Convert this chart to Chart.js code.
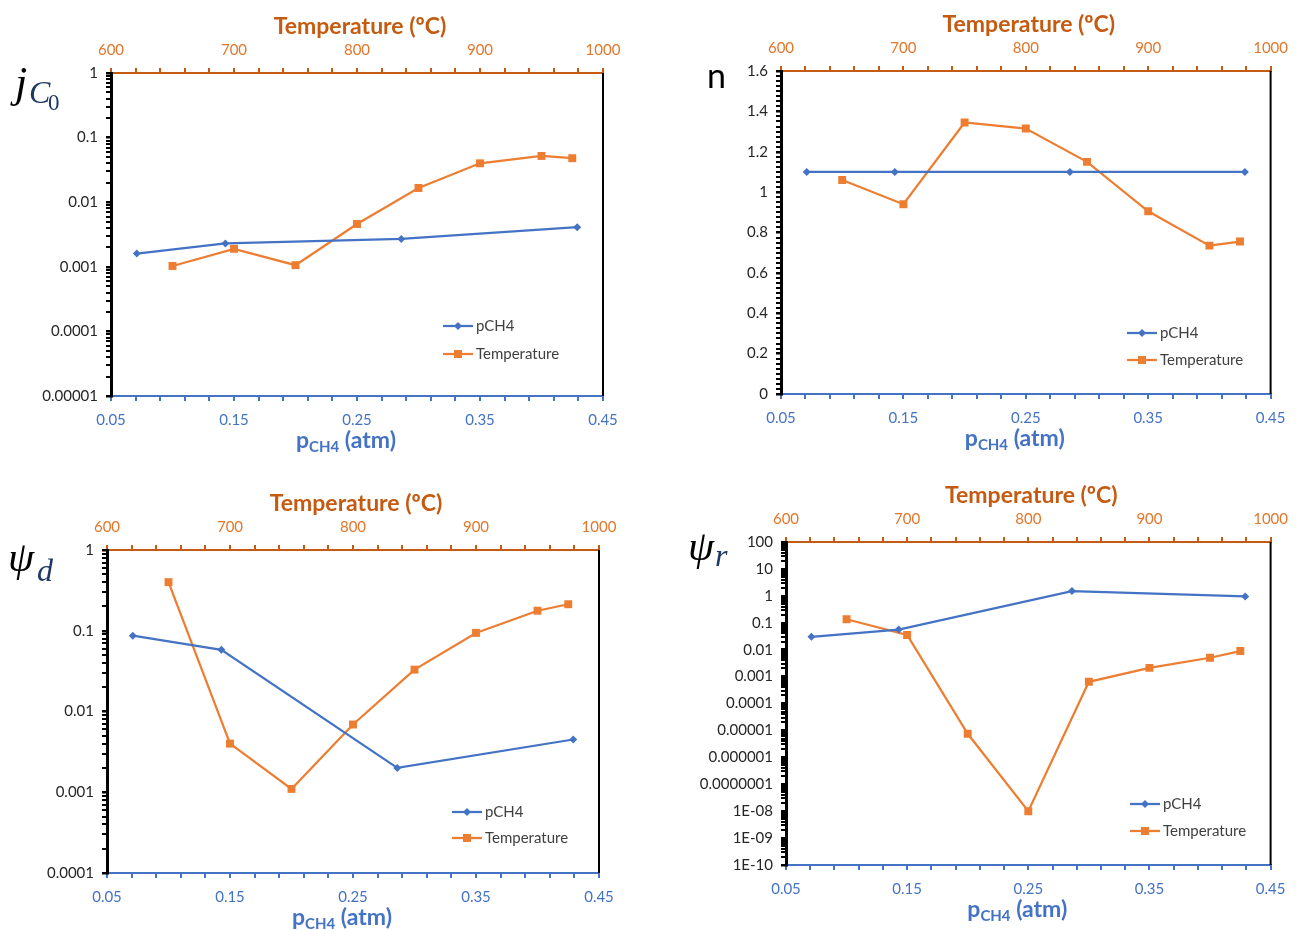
<!DOCTYPE html>
<html>
<head>
<meta charset="utf-8">
<title>Kinetic parameters vs pCH4 and temperature</title>
<script src="https://cdn.jsdelivr.net/npm/chart.js@4.4.1/dist/chart.umd.min.js"></script>
<style>
  html, body { margin: 0; padding: 0; background: #ffffff; }
  body { width: 1297px; height: 930px; position: relative; overflow: hidden; }
  canvas { position: absolute; }
</style>
</head>
<body>
<canvas id="panelJ"></canvas>
<canvas id="panelN"></canvas>
<canvas id="panelPsiD"></canvas>
<canvas id="panelPsiR"></canvas>
<script>
// ---- data ----
const pressure = [0.071, 0.143, 0.286, 0.429];                 // atm (bottom axis)
const temperature = [650, 700, 750, 800, 850, 900, 950, 975];  // ºC (top axis)

const jc0Pressure    = [0.0016, 0.0023, 0.0027, 0.0041];
const jc0Temperature = [0.00103, 0.0019, 0.00106, 0.0046, 0.0166, 0.040, 0.052, 0.048];

const nPressure    = [1.1, 1.1, 1.1, 1.1];
const nTemperature = [1.06, 0.94, 1.345, 1.315, 1.15, 0.905, 0.735, 0.755];

const psiDPressure    = [0.087, 0.058, 0.0020, 0.0045];
const psiDTemperature = [0.40, 0.0040, 0.0011, 0.0069, 0.033, 0.094, 0.177, 0.213];

const psiRPressure    = [0.030, 0.056, 1.5, 0.95];
const psiRTemperature = [0.135, 0.035, 0.0000075, 0.00000001, 0.00064, 0.0021, 0.0050, 0.0089];

// ---- tick labels ----
const pressureTicks    = ['0.05', '0.15', '0.25', '0.35', '0.45'];
const temperatureTicks = ['600', '700', '800', '900', '1000'];
const jc0Ticks  = ['0.00001', '0.0001', '0.001', '0.01', '0.1', '1'];
const nTicks    = ['0', '0.2', '0.4', '0.6', '0.8', '1', '1.2', '1.4', '1.6'];
const psiDTicks = ['0.0001', '0.001', '0.01', '0.1', '1'];
const psiRTicks = ['1E-10', '1E-09', '1E-08', '0.0000001', '0.000001', '0.00001',
                   '0.0001', '0.001', '0.01', '0.1', '1', '10', '100'];

const seriesNames = ['pCH4', 'Temperature'];

// ---- styling ----
const BLUE = '#4472C4';
const ORANGE = '#ED7D31';
const AXIS_ORANGE = '#C55A11';
const TOP_LABEL = '#E2772B';
const SANS = 'Lato, "Open Sans", sans-serif';
const SERIF = '"Liberation Serif", "DejaVu Serif", serif';

// labelled ticks with evenly spaced unlabelled ticks between them
function linearTicks(labels, sub) {
  const out = [];
  labels.forEach((lbl, i) => {
    const v = Number(lbl);
    out.push({ value: v, lbl });
    if (i < labels.length - 1) {
      const next = Number(labels[i + 1]);
      for (let k = 1; k < sub; k++) {
        out.push({ value: +(v + (next - v) * k / sub).toFixed(10), lbl: '' });
      }
    }
  });
  return out;
}

// decades labelled, 2..9 multiples as minor ticks
function logTicks(labels) {
  const out = [];
  labels.forEach((lbl, i) => {
    const v = Number(lbl);
    out.push({ value: v, lbl });
    if (i < labels.length - 1) {
      for (let m = 2; m <= 9; m++) out.push({ value: m * v, lbl: '' });
    }
  });
  return out;
}

function pairs(xs, ys) { return xs.map((x, i) => ({ x, y: ys[i] })); }

function drawRuns(ctx, runs) {
  runs.forEach(r => {
    ctx.font = r.font;
    ctx.fillStyle = r.color;
    ctx.textAlign = 'left';
    ctx.textBaseline = 'alphabetic';
    ctx.fillText(r.text, r.x, r.y);
  });
}

function drawMarker(ctx, style, x, y, color) {
  ctx.fillStyle = color;
  ctx.beginPath();
  if (style === 'rect') {
    ctx.rect(x - 4, y - 4, 8, 8);
  } else {
    ctx.moveTo(x, y - 4); ctx.lineTo(x + 4, y); ctx.lineTo(x, y + 4); ctx.lineTo(x - 4, y);
    ctx.closePath();
  }
  ctx.fill();
}

function overlay(panel) {
  return {
    id: 'overlay_' + panel.id,
    afterDraw(chart) {
      const ctx = chart.ctx;
      const a = chart.chartArea;
      ctx.save();

      // right frame line
      ctx.strokeStyle = '#000000';
      ctx.lineWidth = 2;
      ctx.beginPath();
      ctx.moveTo(a.right, a.top);
      ctx.lineTo(a.right, a.bottom);
      ctx.stroke();

      // top axis title
      const cx = (a.left + a.right) / 2;
      ctx.font = 'bold 23px ' + SANS;
      ctx.fillStyle = AXIS_ORANGE;
      ctx.textAlign = 'center';
      ctx.textBaseline = 'middle';
      ctx.fillText('Temperature (ºC)', cx + 3, a.top - 46);

      // bottom axis title with subscript
      const big = 'bold 23px ' + SANS, small = 'bold 15px ' + SANS;
      ctx.font = big; const wp = ctx.measureText('p').width;
      const wa = ctx.measureText(' (atm)').width;
      ctx.font = small; const ws = ctx.measureText('CH4').width;
      let x = cx - 11 - (wp + ws + wa) / 2;
      const by = a.bottom + 52;
      ctx.textAlign = 'left';
      ctx.textBaseline = 'alphabetic';
      ctx.fillStyle = BLUE;
      ctx.font = big; ctx.fillText('p', x, by); x += wp;
      ctx.font = small; ctx.fillText('CH4', x, by + 4); x += ws;
      ctx.font = big; ctx.fillText(' (atm)', x, by);

      // y label
      drawRuns(ctx, panel.yLabel);

      // legend
      const [lx, ly1, ly2] = panel.legend;
      chart.data.datasets.forEach((ds, i) => {
        const y = i === 0 ? ly1 : ly2;
        ctx.strokeStyle = ds.borderColor;
        ctx.lineWidth = 2.25;
        ctx.beginPath();
        ctx.moveTo(lx, y);
        ctx.lineTo(lx + 30, y);
        ctx.stroke();
        drawMarker(ctx, ds.pointStyle, lx + 15, y, ds.borderColor);
        ctx.font = '15px ' + SANS;
        ctx.fillStyle = '#404040';
        ctx.textAlign = 'left';
        ctx.textBaseline = 'middle';
        ctx.fillText(ds.label, lx + 33, y);
      });
      ctx.restore();
    }
  };
}

const panels = [
  {
    id: 'panelJ', box: [0, 0, 648, 465], area: [111, 73, 603, 396],
    yType: 'logarithmic', yTicks: logTicks(jc0Ticks),
    pVals: jc0Pressure, tVals: jc0Temperature,
    legend: [443, 326, 354],
    yLabel: [
      { text: 'j', font: 'italic 44px ' + SERIF, color: '#000000', x: 15, y: 97 },
      { text: 'C', font: 'italic 32px ' + SERIF, color: '#1F3864', x: 29, y: 103 },
      { text: '0', font: '23px ' + SERIF, color: '#1F3864', x: 48, y: 110 }
    ]
  },
  {
    id: 'panelN', box: [648, 0, 649, 465], area: [133, 71, 625, 394],
    yType: 'linear', yTicks: linearTicks(nTicks, 8),
    pVals: nPressure, tVals: nTemperature,
    legend: [479, 333, 360],
    yLabel: [
      { text: 'n', font: '34px ' + SANS, color: '#000000', x: 59, y: 88 }
    ]
  },
  {
    id: 'panelPsiD', box: [0, 465, 648, 465], area: [107, 85, 599, 408],
    yType: 'logarithmic', yTicks: logTicks(psiDTicks),
    pVals: psiDPressure, tVals: psiDTemperature,
    legend: [452, 347, 373],
    yLabel: [
      { text: 'ψ', font: 'italic 42px ' + SERIF, color: '#000000', x: 8, y: 106 },
      { text: 'd', font: 'italic 32px ' + SERIF, color: '#1F3864', x: 37, y: 116 }
    ]
  },
  {
    id: 'panelPsiR', box: [648, 465, 649, 465], area: [138, 77, 632, 400],
    yType: 'logarithmic', yTicks: logTicks(psiRTicks),
    pVals: psiRPressure, tVals: psiRTemperature,
    legend: [482, 339, 366],
    yLabel: [
      { text: 'ψ', font: 'italic 42px ' + SERIF, color: '#000000', x: 40, y: 95 },
      { text: 'r', font: 'italic 32px ' + SERIF, color: '#1F3864', x: 67, y: 101 }
    ]
  }
];

const pressureTickList = linearTicks(pressureTicks, 5);
const temperatureTickList = linearTicks(temperatureTicks, 5);

function copyTicks(list) { return list.map(t => ({ value: t.value, lbl: t.lbl })); }

panels.forEach(p => {
  const cv = document.getElementById(p.id);
  const [bx, by, bw, bh] = p.box;
  const [al, at, ar, ab] = p.area;
  cv.style.left = bx + 'px';
  cv.style.top = by + 'px';
  cv.width = bw; cv.height = bh;
  cv.style.width = bw + 'px'; cv.style.height = bh + 'px';

  const yVals = p.yTicks.map(t => t.value);

  new Chart(cv, {
    type: 'line',
    data: {
      datasets: [
        {
          label: seriesNames[0], xAxisID: 'x', yAxisID: 'y',
          data: pairs(pressure, p.pVals),
          borderColor: BLUE, backgroundColor: BLUE, borderWidth: 2.25,
          pointStyle: 'rectRot', pointRadius: 4, pointHoverRadius: 4,
          pointBorderWidth: 0, tension: 0
        },
        {
          label: seriesNames[1], xAxisID: 'x2', yAxisID: 'y',
          data: pairs(temperature, p.tVals),
          borderColor: ORANGE, backgroundColor: ORANGE, borderWidth: 2.25,
          pointStyle: 'rect', pointRadius: 5.6, pointHoverRadius: 5.6,
          pointBorderWidth: 0, tension: 0
        }
      ]
    },
    options: {
      responsive: false,
      animation: false,
      devicePixelRatio: 1,
      layout: { padding: { left: 0, top: 0, bottom: 0, right: bw - ar } },
      plugins: { legend: { display: false }, tooltip: { enabled: false } },
      events: [],
      scales: {
        x: {
          type: 'linear', position: 'bottom',
          min: Number(pressureTicks[0]), max: Number(pressureTicks[pressureTicks.length - 1]),
          afterBuildTicks: s => { s.ticks = copyTicks(pressureTickList); },
          afterFit: s => { s.height = bh - ab; },
          border: { display: true, color: BLUE, width: 2 },
          grid: { display: true, drawOnChartArea: false, drawTicks: true, tickLength: 5, color: BLUE, lineWidth: 2 },
          ticks: {
            autoSkip: false, maxRotation: 0, padding: 10,
            color: BLUE, font: { family: SANS, size: 15 },
            callback: (v, i, ticks) => ticks[i].lbl
          }
        },
        x2: {
          type: 'linear', position: 'top',
          min: Number(temperatureTicks[0]), max: Number(temperatureTicks[temperatureTicks.length - 1]),
          afterBuildTicks: s => { s.ticks = copyTicks(temperatureTickList); },
          afterFit: s => { s.height = at; },
          border: { display: true, color: AXIS_ORANGE, width: 2 },
          grid: { display: true, drawOnChartArea: false, drawTicks: true, tickLength: 5, color: AXIS_ORANGE, lineWidth: 2 },
          ticks: {
            autoSkip: false, maxRotation: 0, padding: 9,
            color: TOP_LABEL, font: { family: SANS, size: 15 },
            callback: (v, i, ticks) => ticks[i].lbl
          }
        },
        y: {
          type: p.yType, position: 'left',
          min: Math.min(...yVals), max: Math.max(...yVals),
          afterBuildTicks: s => { s.ticks = copyTicks(p.yTicks); },
          afterFit: s => { s.width = al; },
          border: { display: true, color: '#000000', width: 3 },
          grid: {
            display: true, drawOnChartArea: false, drawTicks: true, tickLength: 5,
            color: '#000000',
            lineWidth: c => (c.tick && c.tick.lbl ? 2.5 : 2)
          },
          ticks: {
            autoSkip: false, padding: 8,
            color: '#262626', font: { family: SANS, size: 15 },
            callback: (v, i, ticks) => ticks[i].lbl
          }
        }
      }
    },
    plugins: [overlay(p)]
  });
});
</script>
</body>
</html>
